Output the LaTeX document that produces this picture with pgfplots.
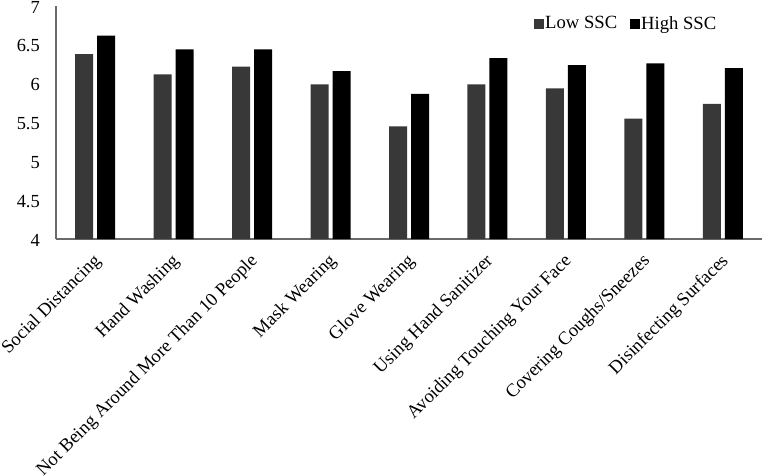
\documentclass[border=0pt]{standalone}
\usepackage{pgfplots}
\pgfplotsset{compat=1.18}
\usepackage{fontspec}
\setmainfont{Liberation Serif}
\definecolor{lowc}{HTML}{383838}
\definecolor{highc}{HTML}{000000}
\definecolor{axc}{HTML}{6A6A6A}
\begin{document}
\begin{tikzpicture}
\begin{axis}[
  name=ax,
  scale only axis, width=706bp, height=233bp,
  ymin=4, ymax=7, ytick={4,4.5,5,5.5,6,6.5,7},
  xmin=-0.5, xmax=8.5,
  xtick={0,1,2,3,4,5,6,7,8},
  xticklabels={Social Distancing, Hand Washing, Not Being Around More Than 10 People, Mask Wearing, Glove Wearing, Using Hand Sanitizer, Avoiding Touching Your Face, Covering Coughs/Sneezes, Disinfecting Surfaces},
  xticklabel style={xshift=-3bp, yshift=-12bp, rotate=45, anchor=north east, font=\fontsize{18.6}{20}\selectfont, inner sep=1bp},
  yticklabel style={font=\fontsize{18.5}{19}\selectfont, anchor=east, xshift=-16bp, yshift=-1bp, inner sep=0pt},
  /pgf/number format/assume math mode=true,
  major tick length=0,
  axis x line*=bottom, axis y line*=left,
  axis line style={axc, line width=1.5bp},
  ybar=4bp, bar width=18bp,
  legend style={draw=none, fill=none, at={(0.807,0.925)}, anchor=center, legend columns=2,
    font=\fontsize{18.7}{20}\selectfont, inner sep=0pt,
    /tikz/every odd column/.append style={column sep=0bp},
    /tikz/every even column/.append style={column sep=11bp},
    nodes={inner sep=1.5bp}},
  legend image code/.code={\fill[#1] (0bp,-5.5bp) rectangle (10bp,4.5bp);},
]
\addplot[fill=lowc, draw=none] coordinates {(0,6.38) (1,6.12) (2,6.22) (3,5.99) (4,5.45) (5,5.99) (6,5.94) (7,5.55) (8,5.74)};
\addplot[fill=highc, draw=none] coordinates {(0,6.62) (1,6.44) (2,6.44) (3,6.16) (4,5.87) (5,6.33) (6,6.24) (7,6.26) (8,6.20)};
\legend{Low SSC, High SSC}
\end{axis}
\pgfresetboundingbox
\path ([xshift=-56bp,yshift=-237bp]ax.south west) rectangle ([yshift=6bp]ax.north east);
\end{tikzpicture}
\end{document}
